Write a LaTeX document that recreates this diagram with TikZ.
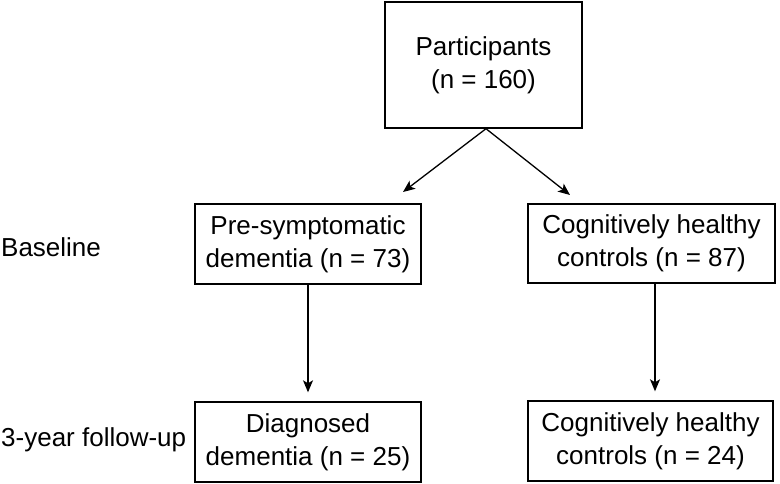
\documentclass[tikz,border=0pt]{standalone}
\usepackage{fontspec}
\setmainfont{Liberation Sans}
\usetikzlibrary{arrows.meta}
\begin{document}
\begin{tikzpicture}[x=1pt,y=-1pt,
  box/.style={draw=black, line width=1.4pt, align=center, inner sep=0pt,
    font=\fontsize{26}{33}\selectfont},
  lbl/.style={anchor=west, inner sep=0pt, font=\fontsize{26}{33}\selectfont},
  arr/.style={draw=black, line width=1.3pt, -{Stealth[length=12pt,width=10pt,inset=3pt]}}]
\useasboundingbox (0,0) rectangle (780,483);
\node[box, minimum width=197pt, minimum height=126pt] (p) at (483.5,65) {Participants\\(n = 160)};
\node[box, minimum width=226pt, minimum height=80pt] (lt) at (308,244) {Pre-symptomatic\\dementia (n = 73)};
\node[box, minimum width=247pt, minimum height=79pt] (rt) at (651.5,243.5) {Cognitively healthy\\controls (n = 87)};
\node[box, minimum width=226pt, minimum height=80pt] (lb) at (308,442) {Diagnosed\\dementia (n = 25)};
\node[box, minimum width=245pt, minimum height=80pt] (rb) at (650.5,441) {Cognitively healthy\\controls (n = 24)};
\node[lbl] (base) at (1,247) {Baseline};
\node[lbl] (fu) at (1,440) {3-year follow-up};
\coordinate (tl) at (403,192);
\coordinate (tr) at (570,195);
\draw[arr] ([xshift=2.5pt]p.south) -- (tl);
\draw[arr] ([xshift=2.5pt]p.south) -- (tr);
\draw[arr] (lt.south) -- ([yshift=9pt]lb.north);
\draw[arr] ([xshift=3.5pt]rt.south) -- ([xshift=4.5pt,yshift=9pt]rb.north);
\end{tikzpicture}
\end{document}
